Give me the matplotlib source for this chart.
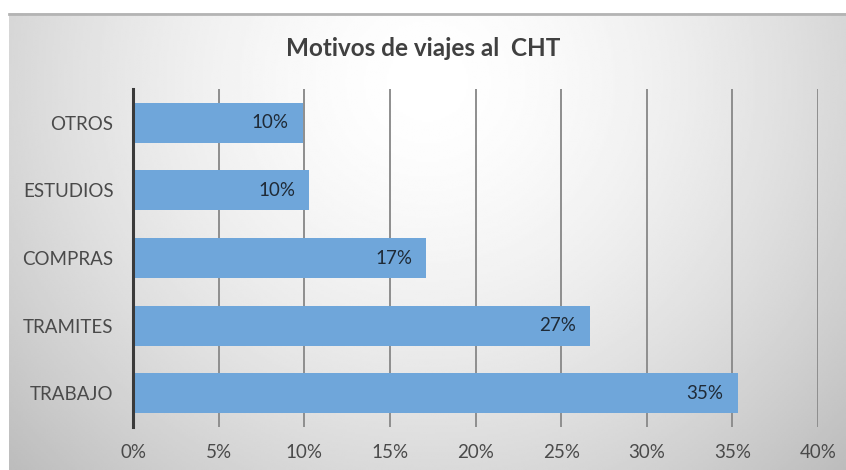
import numpy as np
import matplotlib
matplotlib.use("Agg")
import matplotlib.pyplot as plt
from matplotlib.ticker import FuncFormatter

categories = ["TRABAJO", "TRAMITES", "COMPRAS", "ESTUDIOS", "OTROS"]
values = [35.3, 26.7, 17.1, 10.3, 9.9]
value_labels = ["35%", "27%", "17%", "10%", "10%"]
xticks = [0, 5, 10, 15, 20, 25, 30, 35, 40]
title = "Motivos de viajes al  CHT"

W, H = 846, 470
fig = plt.figure(figsize=(W / 100, H / 100), dpi=100)
fig.patch.set_facecolor("white")

# background gradient panel
bg = fig.add_axes([0, 0, 1, 1], zorder=0)
bg.set_xlim(0, W)
bg.set_ylim(H, 0)
bg.axis("off")
gx, gy = np.meshgrid(np.linspace(0, 1, 400), np.linspace(0, 1, 220))
r = np.sqrt(((gx - 0.5) / 0.62) ** 2 + ((gy - 0.15) / 1.1) ** 2)
shade = 1.0 - 0.22 * np.clip(r, 0, 1.2) ** 1.6
bg.imshow(shade, cmap="gray", vmin=0, vmax=1, extent=[9, W, H, 13],
          aspect="auto", interpolation="bilinear")
bg.plot([9, W], [13.5, 13.5], color="#b4b4b4", lw=2)

ax = fig.add_axes([133 / W, 1 - 427 / H, (818 - 133) / W, (427 - 89) / H], zorder=1)
ax.patch.set_alpha(0)
pos = np.arange(len(categories))
bars = ax.barh(pos, values, height=0.59, color="#6fa6da", zorder=2)
for b, lab in zip(bars, value_labels):
    ax.annotate(lab, (b.get_width(), b.get_y() + b.get_height() / 2),
                xytext=(-10, 0), textcoords="offset points", ha="right", va="center",
                fontsize=13.5, color="#1f2a36", family="Lato", zorder=3)

ax.set_xlim(0, 40)
ax.set_ylim(-0.5, len(categories) - 0.5)
ax.set_xticks(xticks)
ax.xaxis.set_major_formatter(FuncFormatter(lambda v, p: f"{v:.0f}%"))
ax.set_yticks(pos)
ax.set_yticklabels(categories)
ax.grid(axis="x", color="#8e8e8e", lw=1.4, zorder=1)
ax.set_axisbelow(True)
for s in ["top", "right", "bottom"]:
    ax.spines[s].set_visible(False)
ax.spines["left"].set_color("#3a3a3a")
ax.spines["left"].set_linewidth(2.2)
ax.spines["left"].set_zorder(4)
ax.tick_params(axis="both", length=0, labelsize=13.5, labelcolor="#4a4a4a")
ax.tick_params(axis="x", pad=12)
ax.tick_params(axis="y", pad=14)
for t in ax.get_xticklabels() + ax.get_yticklabels():
    t.set_family("Lato")

fig.text(0.5, 1 - 48 / H, title, ha="center", va="center", fontsize=17.5,
         color="#404040", family="Lato", fontweight="bold")

fig.savefig("out.png", dpi=100)
